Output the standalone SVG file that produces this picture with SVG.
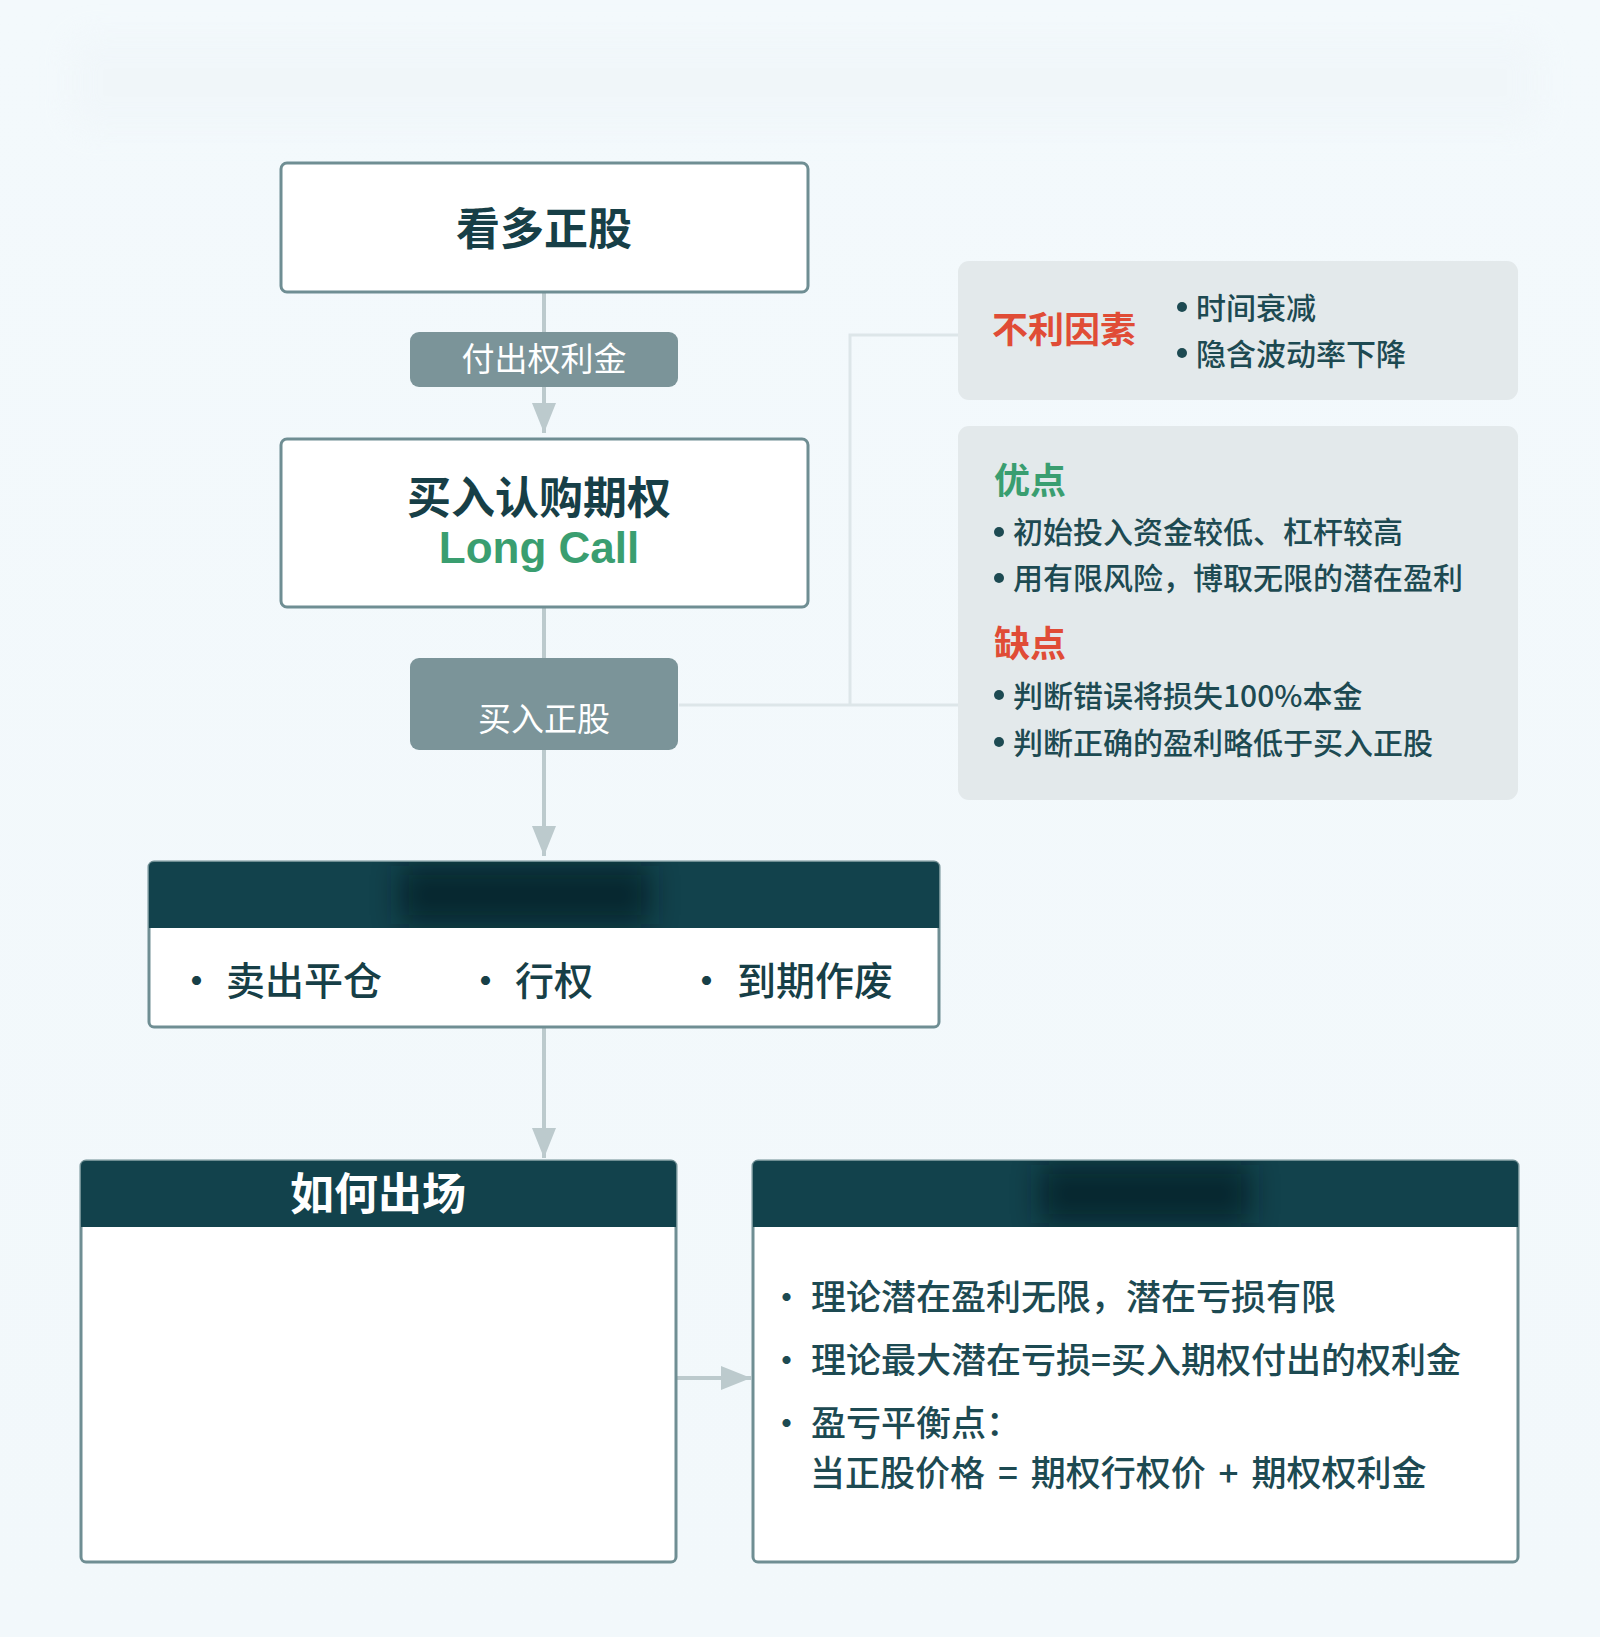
<svg xmlns="http://www.w3.org/2000/svg" width="1600" height="1637" viewBox="0 0 1600 1637">
<defs>
<linearGradient id="bg" x1="0" y1="0" x2="0" y2="1">
<stop offset="0" stop-color="#f3f9fc"/>
<stop offset="1" stop-color="#f2f8fb"/>
</linearGradient>
<marker id="arr" viewBox="0 0 30 24" refX="30" refY="12" markerWidth="30" markerHeight="24" orient="auto" markerUnits="userSpaceOnUse">
<path d="M0,0 L30,12 L0,24 z" fill="#bccacd"/>
</marker>
<filter id="blur" x="-20%" y="-50%" width="140%" height="200%">
<feGaussianBlur stdDeviation="14"/>
</filter>
<clipPath id="h3"><rect x="149" y="862" width="790" height="66"/></clipPath>
<clipPath id="h5"><rect x="753" y="1161" width="765" height="66"/></clipPath>
<style>
text{font-family:"Noto Sans CJK SC","Noto Sans",sans-serif;}
.box{fill:#ffffff;stroke:#6f8e93;stroke-width:3;}
.badge{fill:#7b9499;}
.panel{fill:#e3e9eb;}
.hdr{fill:#12424c;}
.conn{stroke:#bccacd;stroke-width:4;fill:none;}
.brk{stroke:#dde6e9;stroke-width:3;fill:none;}
.dot{fill:#1d4a52;}
.title{font-size:44px;font-weight:700;fill:#173f47;}
.badgeT{font-size:33px;fill:#ffffff;}
.red{fill:#e04c36;font-weight:700;}
.green{fill:#3a9e70;font-weight:700;}
.pt{font-size:30px;fill:#1d4a52;font-weight:500;}
.it{font-size:39px;fill:#173f47;font-weight:500;}
.bt{font-size:35px;fill:#1d4a52;font-weight:500;}
</style>
</defs>
<rect x="0" y="0" width="1600" height="1637" fill="url(#bg)"/>
<rect x="70" y="35" width="1470" height="95" rx="20" fill="#f0f6f9" opacity="0.7" filter="url(#blur)"/>

<g id="connectors">
<line class="conn" x1="544" y1="293" x2="544" y2="433" marker-end="url(#arr)"/>
<line class="conn" x1="544" y1="607" x2="544" y2="856" marker-end="url(#arr)"/>
<line class="conn" x1="544" y1="1027" x2="544" y2="1158" marker-end="url(#arr)"/>
<line class="conn" x1="676" y1="1378" x2="751" y2="1378" marker-end="url(#arr)"/>
<path class="brk" d="M679,705 H958 M850,705 V335 H958"/>
</g>

<g id="node-kanduo">
<rect class="box" x="281" y="163" width="527" height="129" rx="6"/>
<text class="title" x="544" y="245" text-anchor="middle">看多正股</text>
</g>

<g id="label-fuchu">
<rect class="badge" x="410" y="332" width="268" height="55" rx="9"/>
<text class="badgeT" x="544" y="371" text-anchor="middle">付出权利金</text>
</g>

<g id="node-longcall">
<rect class="box" x="281" y="439" width="527" height="168" rx="6"/>
<text class="title" x="539" y="514" text-anchor="middle">买入认购期权</text>
<text x="539" y="563" text-anchor="middle" style="font-family:'Liberation Sans',Arial,sans-serif;font-size:44px;font-weight:700;fill:#3a9e70">Long Call</text>
</g>

<g id="label-mairu">
<rect class="badge" x="410" y="658" width="268" height="92" rx="9"/>
<text class="badgeT" x="544" y="731" text-anchor="middle">买入正股</text>
</g>

<g id="panel-buli">
<rect class="panel" x="958" y="261" width="560" height="139" rx="11"/>
<text class="red" x="992" y="343" style="font-size:36px">不利因素</text>
<circle class="dot" cx="1182" cy="307" r="5"/>
<text class="pt" x="1196" y="319">时间衰减</text>
<circle class="dot" cx="1182" cy="353" r="5"/>
<text class="pt" x="1196" y="365">隐含波动率下降</text>
</g>

<g id="panel-youque">
<rect class="panel" x="958" y="426" width="560" height="374" rx="11"/>
<text class="green" x="994" y="494" style="font-size:36px">优点</text>
<circle class="dot" cx="999" cy="532" r="5"/>
<text class="pt" x="1013" y="543">初始投入资金较低、杠杆较高</text>
<circle class="dot" cx="999" cy="578" r="5"/>
<text class="pt" x="1013" y="589">用有限风险，博取无限的潜在盈利</text>
<text class="red" x="994" y="657" style="font-size:36px">缺点</text>
<circle class="dot" cx="999" cy="695" r="5"/>
<text class="pt" x="1013" y="707">判断错误将损失100%本金</text>
<circle class="dot" cx="999" cy="742" r="5"/>
<text class="pt" x="1013" y="754">判断正确的盈利略低于买入正股</text>
</g>

<g id="node-choices">
<rect class="box" x="149" y="862" width="790" height="165" rx="5"/>
<path class="hdr" d="M149,928 V867 Q149,862 154,862 H934 Q939,862 939,867 V928 Z"/>
<g clip-path="url(#h3)"><rect x="400" y="866" width="250" height="58" fill="#06161a" opacity="0.6" filter="url(#blur)"/></g>
<text class="it"><tspan x="177" y="995">•</tspan><tspan x="226" y="995">卖出平仓</tspan></text>
<text class="it"><tspan x="466" y="995">•</tspan><tspan x="515" y="995">行权</tspan></text>
<text class="it"><tspan x="687" y="995">•</tspan><tspan x="737" y="995">到期作废</tspan></text>
</g>

<g id="node-exit">
<rect class="box" x="81" y="1161" width="595" height="401" rx="5"/>
<path class="hdr" d="M81,1227 V1166 Q81,1161 86,1161 H671 Q676,1161 676,1166 V1227 Z"/>
<text x="378" y="1210" text-anchor="middle" style="font-size:44px;font-weight:700;fill:#ffffff">如何出场</text>
</g>

<g id="node-pnl">
<rect class="box" x="753" y="1161" width="765" height="401" rx="5"/>
<path class="hdr" d="M753,1227 V1166 Q753,1161 758,1161 H1513 Q1518,1161 1518,1166 V1227 Z"/>
<g clip-path="url(#h5)"><rect x="1040" y="1165" width="210" height="58" fill="#06161a" opacity="0.6" filter="url(#blur)"/></g>
<text class="bt"><tspan x="769" y="1310">•</tspan><tspan x="811" y="1310">理论潜在盈利无限，潜在亏损有限</tspan></text>
<text class="bt"><tspan x="769" y="1373">•</tspan><tspan x="811" y="1373">理论最大潜在亏损=买入期权付出的权利金</tspan></text>
<text class="bt"><tspan x="769" y="1436">•</tspan><tspan x="811" y="1436">盈亏平衡点：</tspan></text>
<text class="bt" x="810" y="1486" word-spacing="5">当正股价格 = 期权行权价 + 期权权利金</text>
</g>
</svg>
